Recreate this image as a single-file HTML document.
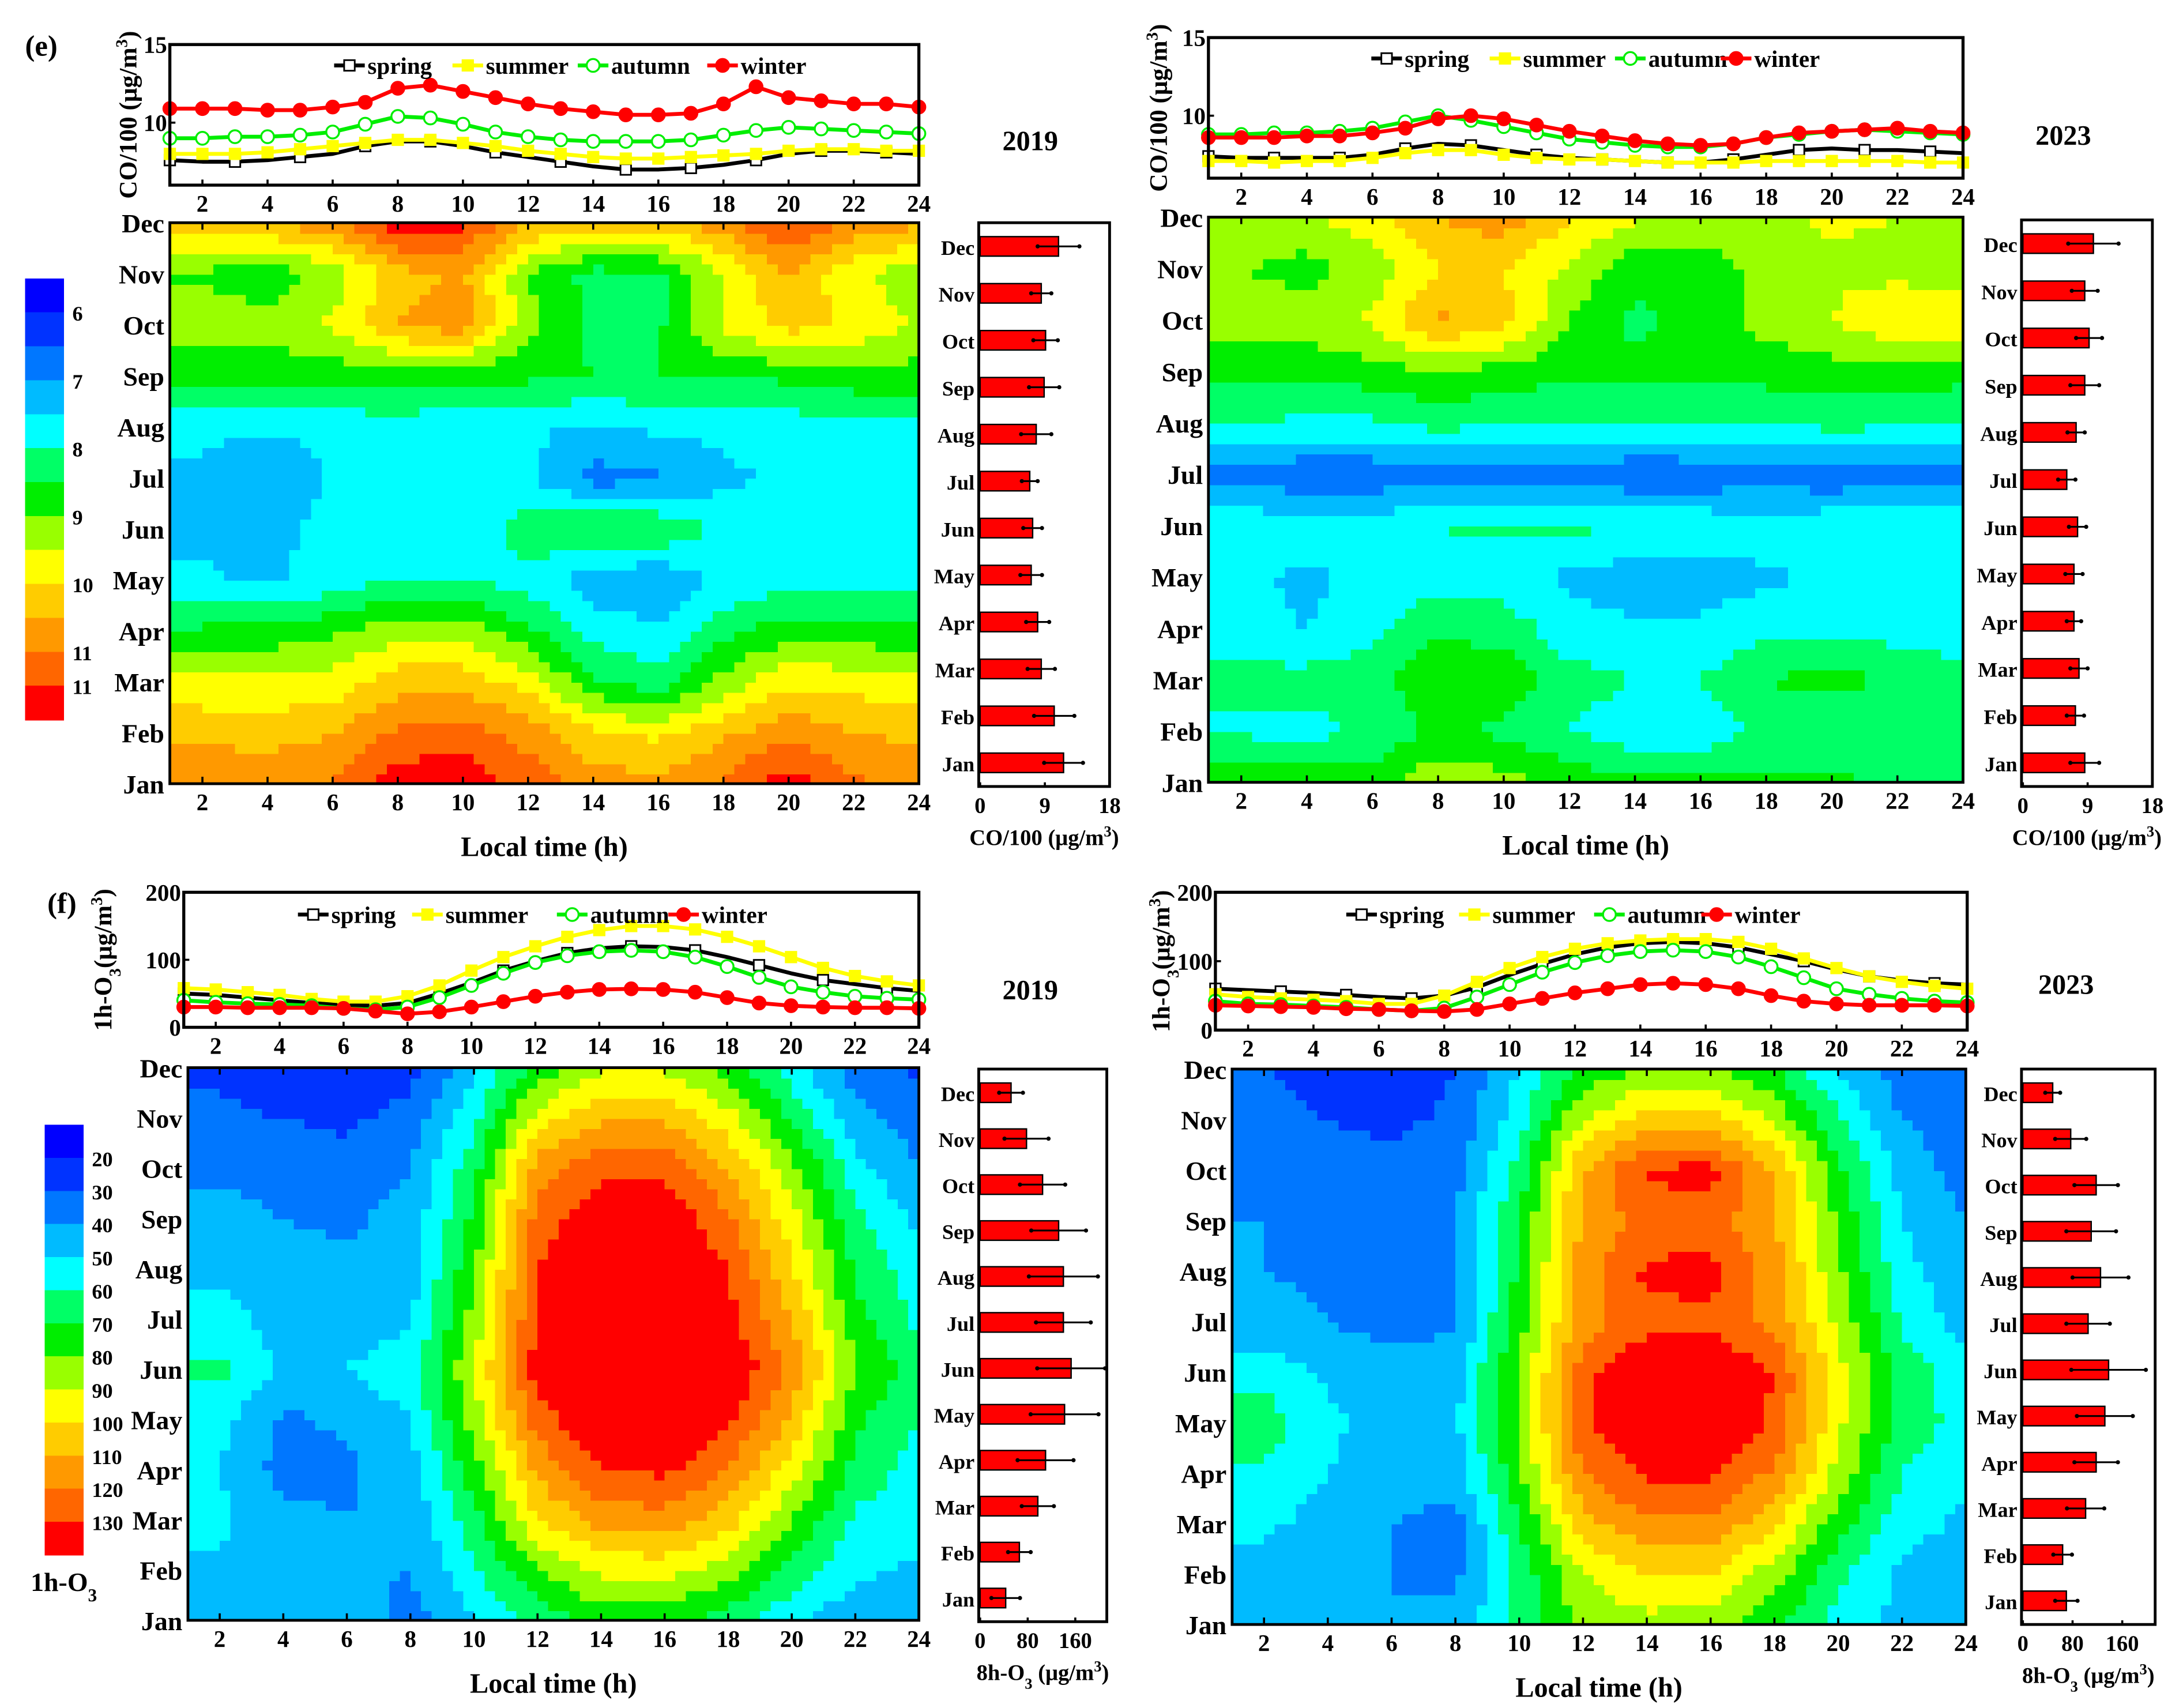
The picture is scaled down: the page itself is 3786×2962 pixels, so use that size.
<!DOCTYPE html>
<html><head><meta charset="utf-8">
<style>
html,body{margin:0;padding:0;background:#fff;}
svg{display:block;}
text{font-family:"Liberation Serif",serif;font-weight:bold;fill:#000;}
</style></head>
<body>
<svg id="chart" xmlns="http://www.w3.org/2000/svg" width="3786" height="2962" viewBox="0 0 1568 1227" preserveAspectRatio="none"></svg>
<script>
// ===== data =====
const hoursLine = [1,2,3,4,5,6,7,8,9,10,11,12,13,14,15,16,17,18,19,20,21,22,23,24];
const hoursGrid = [2,4,6,8,10,12,14,16,18,20,22,24];
const monthNames = ['Jan','Feb','Mar','Apr','May','Jun','Jul','Aug','Sep','Oct','Nov','Dec'];
const palette = ['#0000ff','#0033ff','#0077ff','#00bbff','#00ffff','#00ff66','#00ee00','#99ff00','#ffff00','#ffcc00','#ff9900','#ff6600','#ff0000'];
const coLevels = [6,6.5,7,7.5,8,8.5,9,9.5,10,10.5,11,11.5];
const coLevelLabels = ['6','7','8','9','10','11','11'];
const o3Levels = [20,30,40,50,60,70,80,90,100,110,120,130];
const o3LevelLabels = ['20','30','40','50','60','70','80','90','100','110','120','130'];
const seasonNames = ['spring','summer','autumn','winter'];

// CO 2019 diurnal
const co19Spring = [7.6,7.5,7.5,7.6,7.8,8.0,8.5,8.8,8.8,8.5,8.1,7.8,7.5,7.2,7.0,7.0,7.1,7.3,7.6,8.0,8.2,8.2,8.1,8.0];
const co19Summer = [8.0,8.0,8.0,8.1,8.3,8.5,8.7,8.9,8.9,8.7,8.5,8.2,8.0,7.8,7.7,7.7,7.8,7.9,8.0,8.2,8.3,8.3,8.2,8.2];
const co19Autumn = [9.0,9.0,9.1,9.1,9.2,9.4,9.9,10.4,10.3,9.9,9.4,9.1,8.9,8.8,8.8,8.8,8.9,9.2,9.5,9.7,9.6,9.5,9.4,9.3];
const co19Winter = [10.9,10.9,10.9,10.8,10.8,11.0,11.3,12.2,12.4,12.0,11.6,11.2,10.9,10.7,10.5,10.5,10.6,11.2,12.3,11.6,11.4,11.2,11.2,11.0];
// CO 2023 diurnal
const co23Spring = [7.4,7.3,7.3,7.3,7.3,7.5,7.9,8.2,8.1,7.8,7.5,7.3,7.2,7.1,7.0,7.0,7.2,7.5,7.8,7.9,7.8,7.8,7.7,7.6];
const co23Summer = [7.1,7.1,7.0,7.1,7.1,7.3,7.6,7.8,7.8,7.5,7.3,7.2,7.2,7.1,7.0,7.0,7.0,7.1,7.1,7.1,7.1,7.1,7.0,7.0];
const co23Autumn = [8.8,8.8,8.9,8.9,9.0,9.2,9.6,10.0,9.7,9.3,8.9,8.5,8.3,8.1,8.0,8.0,8.2,8.6,8.8,9.0,9.1,9.0,8.9,8.8];
const co23Winter = [8.6,8.6,8.6,8.7,8.7,8.9,9.2,9.8,10.0,9.8,9.4,9.0,8.7,8.4,8.2,8.1,8.2,8.6,8.9,9.0,9.1,9.2,9.0,8.9];
// O3 2019 diurnal
const o319Spring = [50,48,44,40,36,33,32,36,50,66,84,98,110,117,120,119,114,104,92,80,70,64,58,54];
const o319Summer = [58,56,52,48,42,38,38,46,62,84,104,120,134,144,150,150,145,134,120,104,88,76,68,62];
const o319Autumn = [40,37,35,34,32,28,26,30,44,62,80,96,106,112,114,112,104,90,74,60,52,46,43,41];
const o319Winter = [30,30,29,29,29,28,24,20,23,30,38,46,52,56,57,56,52,44,36,32,30,29,29,28];
// O3 2023 diurnal
const o323Spring = [60,58,56,54,51,48,46,50,62,80,96,110,120,126,128,126,120,110,100,88,78,72,68,66];
const o323Summer = [52,48,46,44,42,38,38,50,70,90,106,118,126,130,132,132,128,118,104,90,78,70,64,60];
const o323Autumn = [42,38,37,35,33,30,28,32,48,66,84,98,108,114,116,114,106,92,76,60,52,46,42,40];
const o323Winter = [36,35,34,33,31,30,28,27,30,38,46,54,60,66,68,66,60,50,42,38,36,36,36,35];

// Heatmaps: rows Jan..Dec, columns hoursGrid
const co19Grid = [
[10.9,10.8,11.0,11.8,11.9,11.3,10.8,10.6,11.1,11.8,11.1,10.9],
[10.4,10.3,10.5,11.1,11.3,10.8,10.1,9.9,10.4,10.9,10.5,10.4],
[9.6,9.6,9.7,10.3,10.3,9.8,8.6,8.2,9.2,9.9,9.8,9.7],
[8.6,8.7,8.9,9.3,9.3,8.6,7.8,7.6,8.3,8.8,8.7,8.6],
[7.6,7.4,7.7,8.0,8.0,7.8,7.2,7.0,7.6,7.8,7.8,7.8],
[7.3,7.4,7.6,7.8,7.5,8.3,8.6,8.5,7.8,7.8,7.6,7.6],
[7.4,7.0,7.6,7.8,7.6,7.6,6.8,6.9,7.4,7.6,7.6,7.6],
[7.6,7.6,7.6,7.8,7.6,7.6,7.4,7.6,7.6,7.7,7.8,7.8],
[8.6,8.6,8.7,8.7,8.6,8.6,8.5,8.5,8.5,8.6,8.8,8.8],
[9.3,9.3,9.6,10.5,10.8,9.2,8.4,8.4,9.6,10.2,9.9,9.4],
[8.9,8.6,9.2,10.3,10.6,9.0,8.3,8.4,9.5,10.5,9.6,9.2],
[10.4,10.5,10.8,11.8,11.6,10.5,10.2,10.2,10.8,11.6,10.8,10.6]];
const co23Grid = [
[9.0,8.8,8.8,9.4,9.2,8.8,8.6,8.6,8.6,8.6,8.4,8.4],
[7.9,7.8,8.1,8.6,8.4,8.0,7.7,7.6,8.2,8.0,8.2,8.0],
[8.2,8.2,8.3,8.9,8.8,8.2,8.0,8.0,8.5,8.7,8.4,8.3],
[7.6,7.5,7.9,8.4,8.3,7.7,7.6,7.6,7.9,7.9,7.8,7.6],
[7.6,7.4,7.6,7.8,7.7,7.4,7.2,7.2,7.4,7.6,7.7,7.6],
[7.9,7.8,7.8,8.0,8.1,8.1,8.0,7.9,7.8,7.9,7.9,7.9],
[6.7,6.6,6.6,6.8,6.6,6.8,6.5,6.6,6.7,6.6,6.7,6.7],
[8.0,7.9,7.9,8.2,8.0,8.0,8.0,8.0,8.0,8.2,8.1,8.0],
[8.7,8.6,8.8,9.0,8.8,8.6,8.6,8.6,8.7,8.8,8.8,8.7],
[9.3,9.3,9.6,10.6,10.2,9.0,8.4,8.7,9.2,9.5,10.0,10.0],
[9.0,8.8,9.2,10.0,10.0,9.4,8.6,8.7,9.2,9.4,9.3,9.2],
[9.5,9.4,9.8,10.5,10.8,10.0,9.6,9.4,9.4,9.6,9.5,9.4]];
const o319Grid = [
[42,44,46,36,50,64,74,74,64,52,42,40],
[48,45,42,40,58,78,92,94,84,66,52,48],
[52,44,40,42,66,100,114,116,104,80,58,54],
[50,36,38,46,75,112,130,132,120,95,66,56],
[54,38,42,50,84,125,140,142,132,108,72,60],
[62,48,50,56,90,135,146,146,140,118,80,64],
[54,46,46,48,84,132,142,144,134,110,74,58],
[48,44,42,46,78,130,140,142,130,102,68,54],
[44,40,38,44,72,125,138,138,122,94,62,48],
[38,36,34,40,66,115,128,128,110,84,54,40],
[32,30,28,34,58,95,108,108,94,68,44,34],
[28,24,20,26,48,74,88,88,76,54,34,28]];
const o323Grid = [
[44,42,40,44,62,82,86,84,72,56,46,44],
[46,40,40,38,62,90,100,100,84,62,48,44],
[52,46,40,36,70,106,118,118,102,74,54,48],
[58,50,44,44,78,120,132,132,118,86,60,52],
[66,52,46,48,82,128,140,140,128,92,66,56],
[56,48,46,46,82,126,142,142,130,94,66,54],
[44,40,36,38,76,116,126,128,116,88,58,46],
[40,38,36,40,72,116,132,134,114,82,54,42],
[40,36,34,40,70,112,124,124,112,78,50,40],
[36,34,32,36,64,110,132,134,110,72,46,36],
[34,30,28,32,56,90,104,104,88,62,40,34],
[30,26,22,30,50,72,82,82,70,50,34,30]];

// Monthly bars (Jan..Dec) mean and error
const co19Bar = [11.6,10.3,8.5,8.0,7.1,7.3,6.9,7.8,8.9,9.1,8.5,10.9];
const co19Err = [2.7,2.8,1.9,1.6,1.5,1.3,1.1,2.1,2.1,1.7,1.4,2.9];
const co23Bar = [8.6,7.3,7.8,7.1,7.1,7.6,6.1,7.4,8.6,9.2,8.6,9.8];
const co23Err = [2.0,1.2,1.2,1.0,1.2,1.2,1.2,1.2,2.0,1.8,1.8,3.5];
const o319Bar = [43,66,97,110,142,153,140,140,132,105,78,52];
const o319Err = [24,19,27,47,57,57,46,58,46,38,37,20];
const o323Bar = [70,64,101,118,132,138,105,125,110,118,77,48];
const o323Err = [18,15,30,35,45,60,35,45,40,35,25,12];

// ===== drawing =====
const NS = 'http://www.w3.org/2000/svg';
const svg = document.getElementById('chart');
function mk(tag, attrs, parent){
  const e = document.createElementNS(NS, tag);
  for (const k in attrs) e.setAttribute(k, attrs[k]);
  (parent || svg).appendChild(e);
  return e;
}
function txt(s, x, y, size, anchor, parent){
  const t = mk('text', {x:x, y:y, 'font-size':size, 'text-anchor':anchor || 'middle'}, parent);
  t.textContent = s;
  return t;
}
function colorFor(v, levels){
  let i = 0;
  while (i < levels.length && v >= levels[i]) i++;
  return palette[i];
}
function sampleGrid(grid, h, m){
  let hc = Math.max(hoursGrid[0], Math.min(hoursGrid[hoursGrid.length-1], h));
  let mc = Math.max(1, Math.min(12, m));
  let j = 0;
  while (j < hoursGrid.length-2 && hc > hoursGrid[j+1]) j++;
  let i = Math.min(10, Math.floor(mc - 1));
  const tx = (hc - hoursGrid[j]) / (hoursGrid[j+1] - hoursGrid[j]);
  const ty = (mc - 1) - i;
  const a = grid[i][j], b = grid[i][j+1], c = grid[i+1][j], d = grid[i+1][j+1];
  return (a*(1-tx)+b*tx)*(1-ty) + (c*(1-tx)+d*tx)*ty;
}

const seasonStyle = [
  {stroke:'#000', fill:'#fff', shape:'square'},
  {stroke:'#ffff00', fill:'#ffff00', shape:'square'},
  {stroke:'#00ee00', fill:'#fff', shape:'circle'},
  {stroke:'#ff0000', fill:'#ff0000', shape:'circle'}
];
function marker(g, shape, x, y, st){
  if (shape === 'square') return mk('rect', {x:x-3.8, y:y-3.8, width:7.6, height:7.6, fill:st.fill, stroke:st.stroke === '#ffff00' ? '#ffff00' : '#000', 'stroke-width':1.2}, g);
  return mk('circle', {cx:x, cy:y, r:4.6, fill:st.fill, stroke:st.stroke, 'stroke-width':1.4}, g);
}

function drawPanel(P){
  const root = mk('g', {});
  
  

  const L = P.line;
  const lg = mk('g', {}, root);
  
  
  const xL = h => L.x0 + (h - 1) / 23 * (L.x1 - L.x0);
  const yL = v => L.y1 - (v - L.min) / (L.max - L.min) * (L.y1 - L.y0);
  P.series.forEach((arr, si) => {
    const st = seasonStyle[si];
    const sg = mk('g', {}, lg);
    
    
    const pts = arr.map((v, k) => xL(hoursLine[k]).toFixed(2) + ',' + yL(v).toFixed(2)).join(' ');
    const pl = mk('polyline', {points:pts, fill:'none', stroke:st.stroke, 'stroke-width':2.8, 'stroke-linejoin':'round'}, sg);
    
    
    arr.forEach((v, k) => {
      if (si === 0 && k % 2 === 1) return;
      const mkr = marker(sg, st.shape, xL(hoursLine[k]), yL(v), st);
      
      
    });
  });
  const lbox = mk('rect', {x:L.x0, y:L.y0, width:L.x1-L.x0, height:L.y1-L.y0, fill:'none', stroke:'#000', 'stroke-width':2.2}, lg);
  
  
  for (let h = 2; h <= 24; h += 2){
    mk('line', {x1:xL(h), x2:xL(h), y1:L.y1, y2:L.y1-4, stroke:'#000', 'stroke-width':1.5}, lg);
    const t = txt(String(h), xL(h), L.y1 + 19, 17, 'middle', lg);
    
    
  }
  L.ticks.forEach(v => {
    mk('line', {x1:L.x0, x2:L.x0+4, y1:yL(v), y2:yL(v), stroke:'#000', 'stroke-width':1.5}, lg);
    const t = txt(String(v), L.x0 - 2, yL(v) + 6, 17, 'end', lg);
    
    
  });
  const yt = mk('text', {x:0, y:0, 'font-size':18, 'text-anchor':'middle', transform:'translate(' + L.titleX + ',' + ((L.y0+L.y1)/2) + ') rotate(-90)'}, lg);
  
  
  if (P.kind === 'co'){
    yt.appendChild(document.createTextNode('CO/100 (μg/m'));
    const s = mk('tspan', {'baseline-shift':'super', 'font-size':12}, yt); s.textContent = '3';
    const s2 = mk('tspan', {}, yt); s2.textContent = ')';
  } else {
    yt.appendChild(document.createTextNode('1h-O'));
    const s = mk('tspan', {'baseline-shift':'sub', 'font-size':12}, yt); s.textContent = '3';
    const s2 = mk('tspan', {}, yt); s2.textContent = '(μg/m';
    const s3 = mk('tspan', {'baseline-shift':'super', 'font-size':12}, yt); s3.textContent = '3';
    const s4 = mk('tspan', {}, yt); s4.textContent = ')';
  }
  const leg = mk('g', {}, lg);
  
  
  P.legendX.forEach((lx, si) => {
    const st = seasonStyle[si];
    const eg = mk('g', {}, leg);
    
    
    mk('line', {x1:lx, x2:lx+22, y1:P.legendY, y2:P.legendY, stroke:st.stroke, 'stroke-width':2.8}, eg);
    marker(eg, st.shape, lx+11, P.legendY, st);
    txt(seasonNames[si], lx+24, P.legendY+6, 17, 'start', eg);
  });
  const yr = txt(P.year, P.yearX, P.yearY, 20, 'middle', root);
  
  

  const H = P.heat;
  const hg = mk('g', {'shape-rendering':'crispEdges'}, root);
  
  
  const xH = h => H.x0 + (h - 1) / 23 * (H.x1 - H.x0);
  const yH = m => H.y1 - (m - 1) / 11 * (H.y1 - H.y0);
  const dh = 1/3, dm = 0.2;
  for (let h = 1; h < 24 - 1e-6; h += dh){
    for (let m = 1; m < 12 - 1e-6; m += dm){
      const v = sampleGrid(P.grid, h + dh/2, m + dm/2);
      const x = xH(h), y = yH(m + dm);
      const c = mk('rect', {x:x.toFixed(2), y:y.toFixed(2), width:(xH(h+dh)-x+0.7).toFixed(2), height:(yH(m)-y+0.7).toFixed(2), fill:colorFor(v, P.levels)}, hg);
      
      
    }
  }
  const hbox = mk('rect', {x:H.x0, y:H.y0, width:H.x1-H.x0, height:H.y1-H.y0, fill:'none', stroke:'#000', 'stroke-width':2}, root);
  
  
  for (let h = 2; h <= 24; h += 2){
    mk('line', {x1:xH(h), x2:xH(h), y1:H.y1, y2:H.y1-5, stroke:'#000', 'stroke-width':1.5}, root);
    mk('line', {x1:xH(h), x2:xH(h), y1:H.y0, y2:H.y0+5, stroke:'#000', 'stroke-width':1.5}, root);
    const t = txt(String(h), xH(h), H.y1 + 19, 17, 'middle', root);
    
    
  }
  monthNames.forEach((mn, i) => {
    const t = txt(mn, H.x0 - 4, yH(i+1) + 7, 19, 'end', root);
    
    
  });
  const xt = txt('Local time (h)', (H.x0+H.x1)/2, H.y1 + 52, 20, 'middle', root);
  
  

  const B = P.bars;
  const bg = mk('g', {}, root);
  
  
  const xB = v => B.x0 + 1 + v / B.max * (B.x1 - B.x0 - 1);
  const yB = i => B.y1 - 17 - i * (B.y1 - B.y0 - 34) / 11;
  P.barVals.forEach((v, i) => {
    const y = yB(i);
    const r = mk('rect', {x:xB(0), y:y-7, width:xB(v)-xB(0), height:14, fill:'#ff0000', stroke:'#000', 'stroke-width':1}, bg);
    
    
    const e = P.barErr[i];
    const el = mk('line', {x1:xB(v-e), x2:xB(v+e), y1:y, y2:y, stroke:'#000', 'stroke-width':1.3}, bg);
    
    
    mk('circle', {cx:xB(v-e), cy:y, r:1.5, fill:'#000'}, bg);
    mk('circle', {cx:xB(v+e), cy:y, r:1.5, fill:'#000'}, bg);
    const t = txt(monthNames[i], B.x0 - 3, y + 6, 15, 'end', bg);
    
    
  });
  const bbox = mk('rect', {x:B.x0, y:B.y0, width:B.x1-B.x0, height:B.y1-B.y0, fill:'none', stroke:'#000', 'stroke-width':2}, bg);
  
  
  B.ticks.forEach(v => {
    mk('line', {x1:xB(v), x2:xB(v), y1:B.y1, y2:B.y1-3, stroke:'#000', 'stroke-width':1.5}, bg);
    const t = txt(String(v), xB(v), B.y1 + 19, 16, 'middle', bg);
    
    
  });
  const bt = mk('text', {x:(B.x0+B.x1)/2, y:B.y1 + 42, 'font-size':16, 'text-anchor':'middle'}, bg);
  
  
  if (P.kind === 'co'){
    bt.appendChild(document.createTextNode('CO/100 (μg/m'));
    const s = mk('tspan', {'baseline-shift':'super', 'font-size':11}, bt); s.textContent = '3';
    const s2 = mk('tspan', {}, bt); s2.textContent = ')';
  } else {
    bt.appendChild(document.createTextNode('8h-O'));
    const s = mk('tspan', {'baseline-shift':'sub', 'font-size':11}, bt); s.textContent = '3';
    const s2 = mk('tspan', {}, bt); s2.textContent = ' (μg/m';
    const s3 = mk('tspan', {'baseline-shift':'super', 'font-size':11}, bt); s3.textContent = '3';
    const s4 = mk('tspan', {}, bt); s4.textContent = ')';
  }
}

function drawColorbar(x0, y0, w, h, name){
  const g = mk('g', {'shape-rendering':'crispEdges'});
  
  
  const bh = h / palette.length;
  palette.forEach((c, i) => {
    const r = mk('rect', {x:x0, y:y0 + i*bh, width:w, height:bh+0.5, fill:c}, g);
    
    
  });
  return {g:g, bh:bh};
}

drawPanel({name:'panel-e-2019', kind:'co', year:'2019', yearX:740, yearY:108,
  series:[co19Spring, co19Summer, co19Autumn, co19Winter],
  line:{x0:122, x1:660, y0:32, y1:133, min:6, max:15, ticks:[10,15], titleX:98},
  legendX:[240, 325, 415, 508], legendY:47,
  heat:{x0:122, x1:660, y0:160, y1:563}, grid:co19Grid, levels:coLevels,
  bars:{x0:703, x1:797, y0:160, y1:565, max:18, ticks:[0,9,18]}, barVals:co19Bar, barErr:co19Err});
drawPanel({name:'panel-e-2023', kind:'co', year:'2023', yearX:1482, yearY:104,
  series:[co23Spring, co23Summer, co23Autumn, co23Winter],
  line:{x0:868, x1:1410, y0:27, y1:128, min:6, max:15, ticks:[10,15], titleX:838},
  legendX:[985, 1070, 1160, 1236], legendY:42,
  heat:{x0:868, x1:1410, y0:156, y1:562}, grid:co23Grid, levels:coLevels,
  bars:{x0:1452, x1:1546, y0:158, y1:565, max:18, ticks:[0,9,18]}, barVals:co23Bar, barErr:co23Err});
drawPanel({name:'panel-f-2019', kind:'o3', year:'2019', yearX:740, yearY:718,
  series:[o319Spring, o319Summer, o319Autumn, o319Winter],
  line:{x0:132, x1:660, y0:641, y1:738, min:0, max:200, ticks:[0,100,200], titleX:80},
  legendX:[214, 296, 400, 480], legendY:657,
  heat:{x0:135, x1:660, y0:767, y1:1164}, grid:o319Grid, levels:o3Levels,
  bars:{x0:703, x1:795, y0:768, y1:1165, max:213, ticks:[0,80,160]}, barVals:o319Bar, barErr:o319Err});
drawPanel({name:'panel-f-2023', kind:'o3', year:'2023', yearX:1484, yearY:714,
  series:[o323Spring, o323Summer, o323Autumn, o323Winter],
  line:{x0:873, x1:1413, y0:641, y1:740, min:0, max:200, ticks:[0,100,200], titleX:840},
  legendX:[967, 1048, 1145, 1222], legendY:657,
  heat:{x0:885, x1:1412, y0:768, y1:1167}, grid:o323Grid, levels:o3Levels,
  bars:{x0:1452, x1:1548, y0:768, y1:1167, max:213, ticks:[0,80,160]}, barVals:o323Bar, barErr:o323Err});

const cbE = drawColorbar(18, 200, 28, 317, 'co-colorbar');
coLevelLabels.forEach((s, i) => {
  const t = txt(s, 52, 200 + (i < 6 ? (1 + 2*i) : 12) * cbE.bh + 6, 15, 'start', cbE.g);
  
  
});
const cbF = drawColorbar(32, 808, 28, 309, 'o3-colorbar');
o3LevelLabels.forEach((s, i) => {
  const t = txt(s, 66, 808 + (i + 1) * cbF.bh + 6, 15, 'start', cbF.g);
  
  
});
const cbt = mk('text', {x:22, y:1143, 'font-size':19, 'text-anchor':'start'});


cbt.appendChild(document.createTextNode('1h-O'));
const cbs = mk('tspan', {'baseline-shift':'sub', 'font-size':13}, cbt); cbs.textContent = '3';

const pe = txt('(e)', 18, 40, 21, 'start');


const pf = txt('(f)', 34, 656, 21, 'start');


</script>
</body></html>
